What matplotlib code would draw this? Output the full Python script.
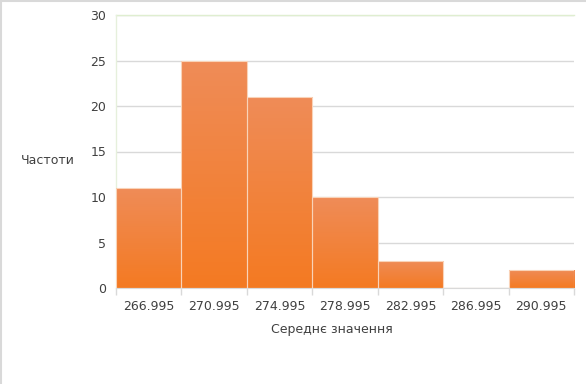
import matplotlib
matplotlib.use("Agg")
import matplotlib.pyplot as plt
import numpy as np
from matplotlib.colors import LinearSegmentedColormap
from matplotlib.lines import Line2D

categories = ["266.995", "270.995", "274.995", "278.995", "282.995", "286.995", "290.995"]
counts = [11, 25, 21, 10, 3, 0, 2]
y_ticks = [0, 5, 10, 15, 20, 25, 30]

fig = plt.figure(figsize=(5.86, 3.84), dpi=100)
ax = fig.add_axes([116/586, 1-288/384, (574-116)/586, (288-15)/384])

x = np.arange(len(categories))
bars = ax.bar(x, counts, width=1.0, color="none", edgecolor="#f9d3b8", linewidth=0.8, zorder=3)

cmap = LinearSegmentedColormap.from_list("g", ["#f47a22", "#ef8c58"])
grad = np.linspace(0, 1, 256).reshape(-1, 1)
for b in bars:
    if b.get_height() <= 0:
        continue
    x0, w, h = b.get_x(), b.get_width(), b.get_height()
    im = ax.imshow(grad, cmap=cmap, origin="lower", aspect="auto",
                   extent=[x0, x0 + w, 0, h], zorder=2)
    im.set_clip_path(b)

ax.set_xlim(-0.5, len(categories) - 0.5)
ax.set_ylim(0, 30)
ax.set_yticks(y_ticks)
ax.set_xticks(x)
ax.set_xticklabels(categories)
ax.set_xticks(np.arange(len(categories) + 1) - 0.5, minor=True)
ax.tick_params(axis="x", which="major", length=0, pad=9, labelsize=9, labelcolor="#404040")
ax.tick_params(axis="x", which="minor", length=5, color="#d9d9d9", width=1)
ax.tick_params(axis="y", length=0, pad=7, labelsize=9, labelcolor="#404040")
ax.yaxis.grid(True, color="#d9d9d9", linewidth=1, zorder=0)
ax.set_axisbelow(True)
for s in ["top", "right", "left"]:
    ax.spines[s].set_visible(False)
ax.spines["bottom"].set_color("#d9d9d9")
ax.plot([0, 1], [1, 1], transform=ax.transAxes, color="#dfeed0", lw=1, clip_on=False, zorder=1)
ax.plot([0, 0], [0, 1], transform=ax.transAxes, color="#e6f0dc", lw=1, clip_on=False, zorder=1)

ax.set_xlabel("Середнє значення", fontsize=9, color="#404040", va="center")
ax.xaxis.set_label_coords((332 - 116) / 458, (288 - 330) / 273)
fig.text(48/586, 1-160/384, "Частоти", fontsize=9, color="#404040", ha="center", va="center")

fig.lines.append(Line2D([1/586, 1/586], [0, 1], transform=fig.transFigure, color="#d9d9d9", lw=1.5))
fig.lines.append(Line2D([0, 1], [1-1/384, 1-1/384], transform=fig.transFigure, color="#d9d9d9", lw=1.5))

fig.savefig("out.png", dpi=100)
